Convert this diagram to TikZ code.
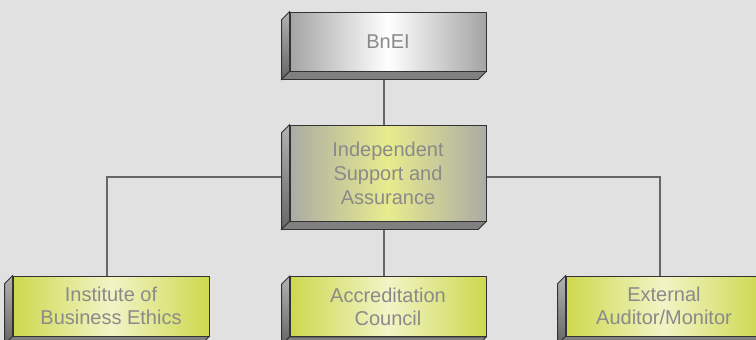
\documentclass[tikz,border=0pt]{standalone}
\usepackage{fontspec}
\setmainfont{Liberation Sans}
\usepackage{tikz}

\definecolor{bgcol}{HTML}{E1E1E1}
\definecolor{greyedge}{HTML}{A4A4A4}
\definecolor{midedge}{HTML}{ABABA4}
\definecolor{midcentre}{HTML}{E8EC8E}
\definecolor{limeedge}{HTML}{CDD84E}
\definecolor{limecentre}{HTML}{F2F4C6}
\definecolor{labelcol}{HTML}{8A8A8A}

\pgfdeclarelayer{bg}
\pgfdeclarelayer{edges}
\pgfsetlayers{bg,edges,main}

\tikzset{
    slab/.style={draw=black!80, line width=0.8pt, minimum width=196pt,
        inner sep=0pt, align=center, text=labelcol,
        font=\fontsize{20}{23}\selectfont},
    greyslab/.style={slab, minimum height=59pt,
        left color=greyedge, right color=greyedge, middle color=white},
    midslab/.style={slab, minimum height=96pt,
        font=\fontsize{20}{24}\selectfont,
        left color=midedge, right color=midedge, middle color=midcentre},
    limeslab/.style={slab, minimum height=60pt,
        left color=limeedge, right color=limeedge, middle color=limecentre},
    sideface/.style={draw=black!80, line width=0.8pt, top color=black!30, bottom color=black!60},
    baseface/.style={draw=black!80, line width=0.8pt, fill=black!50},
    link/.style={draw=black!60, line width=1.2pt}
}

\begin{document}
\begin{tikzpicture}[x=1pt, y=-1pt]
        \begin{pgfonlayer}{bg}
            \fill[bgcol] (0, 0) rectangle (756, 340);
        \end{pgfonlayer}
        \useasboundingbox (0, 0) rectangle (756, 340);

        \node[greyslab] (bnei) at (388, 41.5) {BnEI};
        \node[midslab] (isa) at (388, 173) {Independent\\Support and\\Assurance};

        \node[limeslab] (ibe) at (111, 306) {Institute of\\Business Ethics};
        \node[limeslab] (council) at (388, 306.5) {Accreditation\\Council};
        \node[limeslab] (auditor) at (664, 306) {External\\Auditor/Monitor};

        \begin{pgfonlayer}{edges}
            % connectors
            \draw[link] ([xshift=-4pt]bnei.center) -- ([xshift=-4pt]isa.center);
            \draw[link] ([yshift=-4pt]isa.center) -| ([xshift=-4pt]ibe.center);
            \draw[link] ([yshift=-4pt]isa.center) -| ([xshift=-4pt]auditor.center);
            \draw[link] ([xshift=-4pt]isa.center) -- ([xshift=-4pt]council.center);

            % extruded left and bottom faces
            \foreach \n in {bnei, isa, ibe, council, auditor} {
                \draw[sideface] (\n.north west) -- ++(-8, 8) -- ([shift={(-8, 8)}]\n.south west) -- (\n.south west) -- cycle;
                \draw[baseface] (\n.south west) -- ++(-8, 8) -- ([shift={(-8, 8)}]\n.south east) -- (\n.south east) -- cycle;
            }
        \end{pgfonlayer}
    \end{tikzpicture}
\end{document}
